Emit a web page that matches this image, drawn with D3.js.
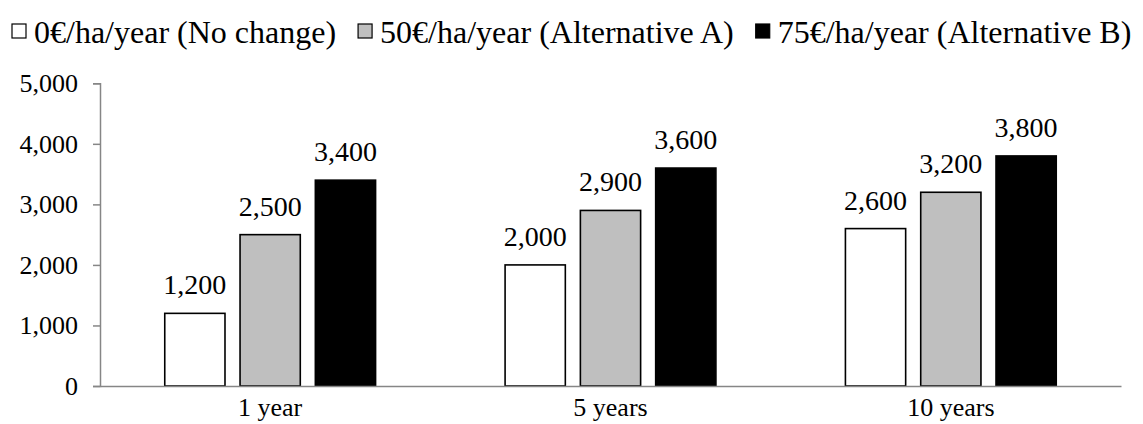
<!DOCTYPE html>
<html>
<head>
<meta charset="utf-8">
<script src="https://cdn.jsdelivr.net/npm/d3@7"></script>
<style>
  html, body { margin: 0; padding: 0; background: #fff; }
  svg { display: block; }
  text { font-family: "Liberation Serif", "Times New Roman", serif; fill: #000; }
</style>
</head>
<body>
<svg id="chart" width="1143" height="424"></svg>
<script>
// Horizons and payment levels
const categories = ["1 year", "5 years", "10 years"];
const seriesNames = [
  "0€/ha/year (No change)",
  "50€/ha/year (Alternative A)",
  "75€/ha/year (Alternative B)"
];
const noChange     = [1200, 2000, 2600];
const alternativeA = [2500, 2900, 3200];
const alternativeB = [3400, 3600, 3800];
const yTicks = [0, 1000, 2000, 3000, 4000, 5000];

const seriesValues = [noChange, alternativeA, alternativeB];
const fills = ["#ffffff", "#bfbfbf", "#000000"];

const svg = d3.select("#chart");
const plot = { left: 100, right: 1121, top: 83.3, bottom: 386 };

const x0 = d3.scaleBand()
  .domain(categories)
  .range([plot.left, plot.right])
  .paddingInner(0).paddingOuter(0);

const x1 = d3.scaleBand()
  .domain(d3.range(seriesNames.length))
  .range([0, x0.bandwidth()])
  .paddingInner(0.2)
  .paddingOuter(0.86);

const y = d3.scaleLinear().domain([0, 5000]).range([plot.bottom, plot.top]);

// Y axis
const yAxis = svg.append("g")
  .attr("transform", `translate(${plot.left},0)`)
  .call(d3.axisLeft(y).tickValues(yTicks).tickFormat(d3.format(",")).tickSize(7).tickPadding(15));
yAxis.select(".domain").attr("stroke", "#868686").attr("stroke-width", 1.5);
yAxis.selectAll(".tick line").attr("stroke", "#868686").attr("stroke-width", 1.5);
yAxis.selectAll(".tick text")
  .attr("font-size", 26)
  .attr("font-family", "'Liberation Serif', 'Times New Roman', serif")
  .attr("fill", "#000");

// Bars
const rows = categories.map((c, i) => ({ cat: c, vals: seriesValues.map(s => s[i]) }));
const groups = svg.append("g").selectAll("g")
  .data(rows).join("g")
  .attr("transform", d => `translate(${x0(d.cat)},0)`);

groups.selectAll("rect")
  .data(d => d.vals.map((v, k) => ({ k, v })))
  .join("rect")
  .attr("x", d => x1(d.k))
  .attr("width", x1.bandwidth())
  .attr("y", d => y(d.v))
  .attr("height", d => y(0) - y(d.v))
  .attr("fill", d => fills[d.k])
  .attr("stroke", "#000")
  .attr("stroke-width", 1.6);

groups.selectAll("text.value")
  .data(d => d.vals.map((v, k) => ({ k, v })))
  .join("text")
  .attr("class", "value")
  .attr("x", d => x1(d.k) + x1.bandwidth() / 2)
  .attr("y", d => y(d.v) - 19)
  .attr("text-anchor", "middle")
  .attr("font-size", 28)
  .text(d => d3.format(",")(d.v));

// X axis baseline and category labels
const xAxis = svg.append("g")
  .attr("transform", `translate(0,${plot.bottom})`)
  .call(d3.axisBottom(x0).tickSize(0).tickPadding(12));
xAxis.select(".domain").attr("stroke", "#868686").attr("stroke-width", 1.5);
xAxis.selectAll(".tick text")
  .attr("font-size", 26)
  .attr("font-family", "'Liberation Serif', 'Times New Roman', serif")
  .attr("fill", "#000");

// Legend
const legend = svg.append("g").attr("transform", "translate(12,0)");
let lx = 0;
seriesNames.forEach((name, k) => {
  const item = legend.append("g").attr("transform", `translate(${lx},0)`);
  item.append("rect")
    .attr("x", 0).attr("y", 24).attr("width", 14).attr("height", 14)
    .attr("fill", fills[k]).attr("stroke", "#000").attr("stroke-width", 1.2);
  const t = item.append("text")
    .attr("x", 22).attr("y", 43)
    .attr("font-size", 32)
    .text(name);
  lx += 22 + t.node().getComputedTextLength() + 22;
});
</script>
</body>
</html>
